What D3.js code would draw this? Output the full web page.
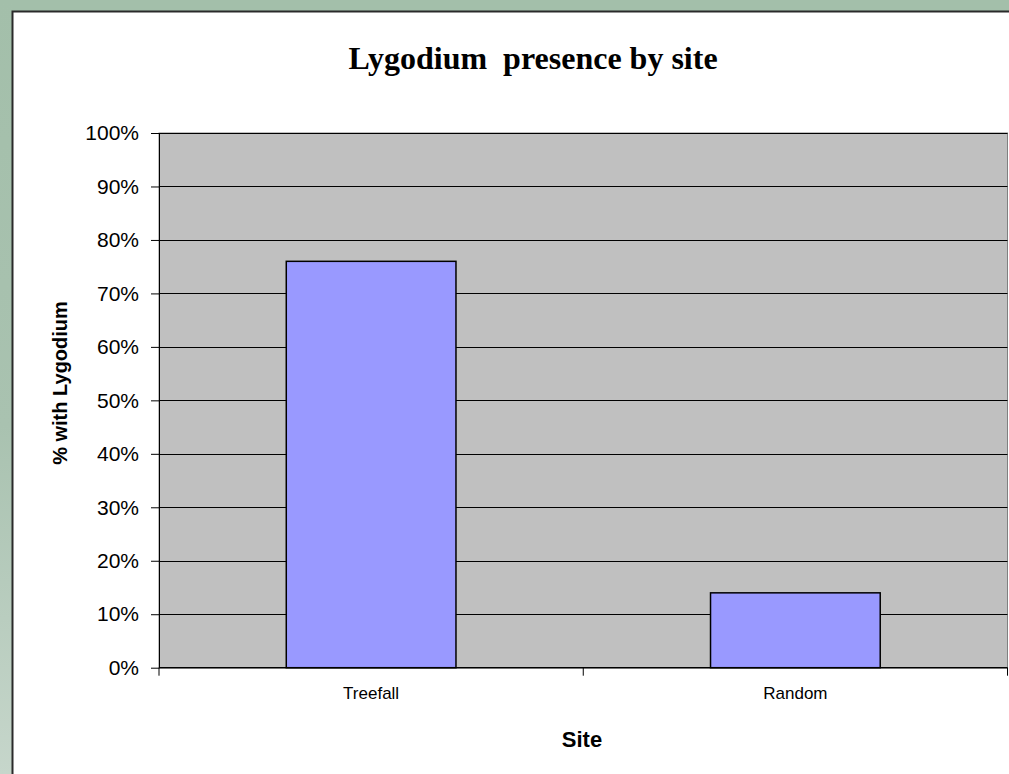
<!DOCTYPE html>
<html><head><meta charset="utf-8">
<script src="https://cdn.jsdelivr.net/npm/d3@7"></script>
<style>body{margin:0;background:#a3bfaa;}svg{display:block;}</style>
</head><body>
<svg id="c" width="1009" height="774"></svg>
<script>
const categories = ["Treefall", "Random"];
const values = [0.76, 0.14];
const yTicks = [0,0.1,0.2,0.3,0.4,0.5,0.6,0.7,0.8,0.9,1.0];
const title = "Lygodium  presence by site";
const xTitle = "Site";
const yTitle = "% with Lygodium";

const svg = d3.select("#c");
const defs = svg.append("defs");
const lg = defs.append("linearGradient").attr("id","bg").attr("x1",0).attr("x2",0).attr("y1",0).attr("y2",1);
lg.append("stop").attr("offset","0").attr("stop-color","#a3bfaa");
lg.append("stop").attr("offset","0.55").attr("stop-color","#a9c2b0");
lg.append("stop").attr("offset","1").attr("stop-color","#c6d6cb");
svg.append("rect").attr("x",0).attr("y",0).attr("width",14).attr("height",774).attr("fill","url(#bg)");

// chart area
svg.append("rect").attr("x",12.5).attr("y",11.5).attr("width",1010).attr("height",780)
  .attr("fill","#fff").attr("stroke","#2a2a2a").attr("stroke-width",2);

const L=159, R=1007.5, T=133, B=667.7;
const x = d3.scaleBand().domain(categories).range([L,R]).paddingInner(0.6).paddingOuter(0.3);
const xb = d3.scaleBand().domain(categories).range([L,R]);
const y = d3.scaleLinear().domain([0,1]).range([B,T]);

svg.append("rect").attr("x",L).attr("y",T).attr("width",R-L).attr("height",B-T)
  .attr("fill","#c0c0c0").attr("stroke","#808080").attr("stroke-width",1);

// gridlines
svg.append("g").selectAll("line").data(yTicks.filter(d=>d>0)).join("line")
  .attr("x1",L).attr("x2",R).attr("y1",d=>Math.round(y(d))+0.5).attr("y2",d=>Math.round(y(d))+0.5)
  .attr("stroke","#000").attr("stroke-width",1);

// y axis
const yAxis = d3.axisLeft(y).tickValues(yTicks).tickFormat(d3.format(".0%")).tickSizeInner(8).tickSizeOuter(0).tickPadding(12);
const gy = svg.append("g").attr("transform",`translate(${L},0)`).call(yAxis);
gy.selectAll("text").attr("font-family","Arial, 'Liberation Sans', sans-serif").attr("font-size",21).attr("fill","#000");
gy.selectAll("line,path").attr("stroke","#000");

// bars
svg.append("g").selectAll("rect").data(values).join("rect")
  .attr("x",(d,i)=>x(categories[i])).attr("width",x.bandwidth())
  .attr("y",d=>y(d)).attr("height",d=>B-y(d))
  .attr("fill","#9999ff").attr("stroke","#000").attr("stroke-width",1.5);

// x axis
const gx = svg.append("g").attr("transform",`translate(0,${B})`);
gx.append("line").attr("x1",L).attr("x2",R).attr("y1",0).attr("y2",0).attr("stroke","#000").attr("stroke-width",1.5);
const bounds = [L, ...categories.map(c=>xb(c)+xb.bandwidth())];
gx.selectAll("line.t").data(bounds).join("line").attr("class","t")
  .attr("x1",d=>d).attr("x2",d=>d).attr("y1",0).attr("y2",8).attr("stroke","#000");
gx.selectAll("text").data(categories).join("text")
  .attr("x",d=>xb(d)+xb.bandwidth()/2).attr("y",31).attr("text-anchor","middle")
  .attr("font-family","Arial, 'Liberation Sans', sans-serif").attr("font-size",17).text(d=>d);

// titles
svg.append("text").attr("x",533).attr("y",69).attr("text-anchor","middle").style("white-space","pre")
  .attr("font-family","'Times New Roman', 'Liberation Serif', serif").attr("font-weight","bold").attr("font-size",32).text(title);
svg.append("text").attr("x",582).attr("y",747).attr("text-anchor","middle")
  .attr("font-family","Arial, 'Liberation Sans', sans-serif").attr("font-weight","bold").attr("font-size",22).text(xTitle);
svg.append("text").attr("transform","translate(67,383) rotate(-90)").attr("text-anchor","middle")
  .attr("font-family","Arial, 'Liberation Sans', sans-serif").attr("font-weight","bold").attr("font-size",20).text(yTitle);
</script>
</body></html>
